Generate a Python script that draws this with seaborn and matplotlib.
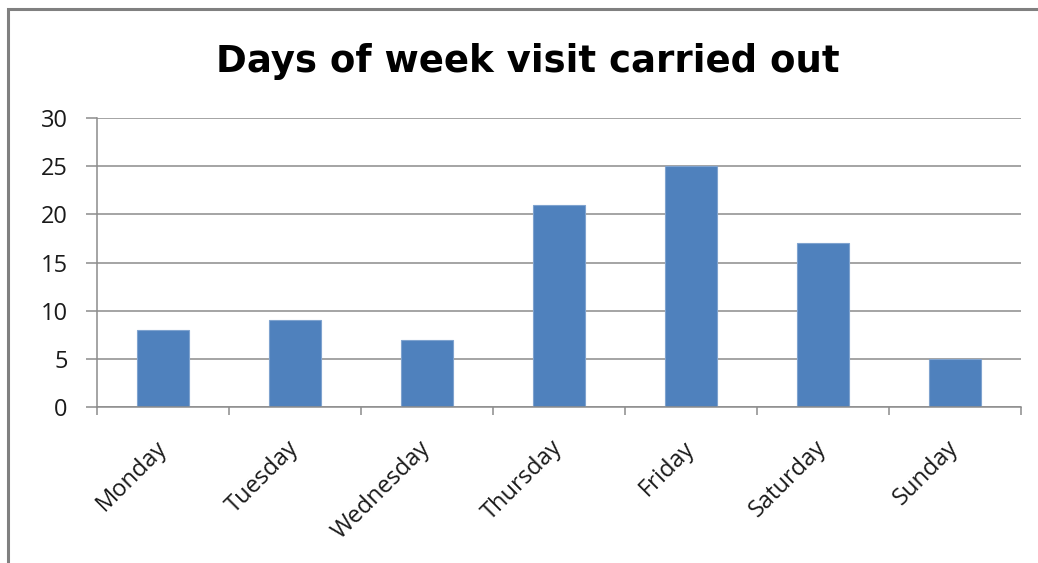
"""Days of week visit carried out - Excel style bar chart."""

import matplotlib
matplotlib.use("Agg")
import matplotlib.pyplot as plt
import matplotlib.patches as mpatches
import numpy as np
import pandas as pd
import seaborn as sns

DAYS = ["Monday", "Tuesday", "Wednesday", "Thursday", "Friday", "Saturday", "Sunday"]
VISITS = [8, 9, 7, 21, 25, 17, 5]
Y_TICKS = [0, 5, 10, 15, 20, 25, 30]

BAR_COLOR = "#4F81BD"
GRID_COLOR = "#8C8C8C"

sns.set_theme(style="white")
plt.rcParams["font.family"] = ["Open Sans", "DejaVu Sans"]

df = pd.DataFrame({"day": DAYS, "visits": VISITS})

fig = plt.figure(figsize=(10.38, 5.63), dpi=100)
fig.patch.set_facecolor("white")
ax = fig.add_axes([97 / 1038, 1 - 407 / 563, (1021 - 97) / 1038, (407 - 118) / 563])

sns.barplot(data=df, x="day", y="visits", order=DAYS, color=BAR_COLOR,
            width=0.39, saturation=1, edgecolor="#7FA3CF", linewidth=0.8, ax=ax)

ax.set_xlim(-0.5, len(DAYS) - 0.5)
ax.set_ylim(0, 30)
ax.set_yticks(Y_TICKS)
ax.yaxis.grid(True, color=GRID_COLOR, linewidth=1.1)
ax.set_axisbelow(True)
ax.set_xlabel("")
ax.set_ylabel("")

for side in ("top", "right"):
    ax.spines[side].set_visible(False)
for side in ("left", "bottom"):
    ax.spines[side].set_color(GRID_COLOR)
    ax.spines[side].set_linewidth(1.1)

# category labels at centers, tick marks at category boundaries
ax.set_xticks(np.arange(len(DAYS)))
ax.set_xticklabels(DAYS, rotation=45, ha="right", va="center", rotation_mode="anchor")
ax.set_xticks(np.arange(len(DAYS) + 1) - 0.5, minor=True)
ax.tick_params(axis="x", which="major", bottom=True, length=0, pad=27,
               labelsize=17, labelcolor="#1a1a1a")
ax.tick_params(axis="x", which="minor", bottom=True, length=6, width=1.1,
               color=GRID_COLOR, direction="out")
ax.tick_params(axis="y", left=True, length=8, width=1.1, color=GRID_COLOR, direction="out",
               pad=13, labelsize=17, labelcolor="#1a1a1a")

fig.text(528 / 1038, 1 - 72 / 563, "Days of week visit carried out", ha="center",
         va="baseline", fontsize=26.7, fontweight="bold", family=["DejaVu Sans"],
         color="black")

# outer chart border (cut off at right and bottom)
fig.patches.append(mpatches.Rectangle((8 / 1038, -0.05), 1.1, 1.05 - 9 / 563,
                                      transform=fig.transFigure, fill=False,
                                      edgecolor="#808080", linewidth=2.2))

fig.savefig("out.png", dpi=100, facecolor="white")
